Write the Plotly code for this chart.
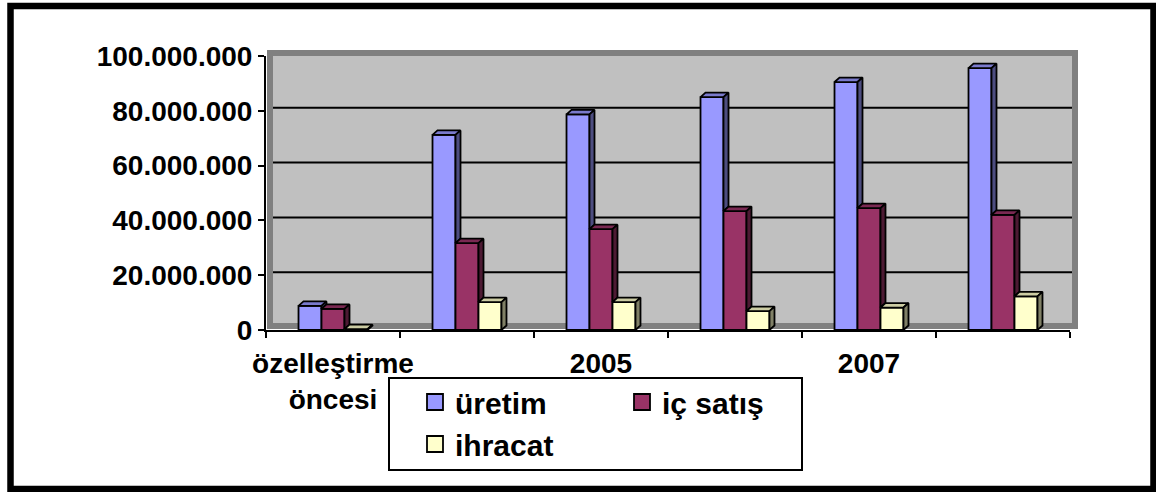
import plotly.graph_objects as go

# ---- data -------------------------------------------------------------
categories = ["özelleştirme<br>öncesi", "2004", "2005", "2006", "2007", "2008"]
label_categories = [0, 2, 4]          # categories whose names are printed
series_names = ["üretim", "iç satış", "ihracat"]
uretim = [8.8e6, 71.2e6, 78.7e6, 85.0e6, 90.5e6, 95.6e6]
ic_satis = [7.7e6, 31.7e6, 36.8e6, 43.4e6, 44.5e6, 42.0e6]
ihracat = [0.3e6, 10.2e6, 10.2e6, 6.9e6, 8.2e6, 12.3e6]
y_ticks = [0, 20e6, 40e6, 60e6, 80e6, 100e6]

# ---- style ------------------------------------------------------------
front_colors = ["#9999FF", "#993366", "#FFFFCC"]
top_colors = ["#7A7ACC", "#7A2952", "#CCCCA3"]
side_colors = ["#4D4D80", "#4D1A33", "#808066"]
FONT = "Liberation Sans, Arial, sans-serif"

W, H = 1156, 492
ML, MR, MT, MB = 266, 86, 56, 162
PW, PH = W - ML - MR, H - MT - MB
Y_MAX = 100e6

def px_x(p):
    return (p - ML) / PW

def px_y(p):
    return (MT + PH - p) / PH

bar_w = 0.1716                    # bar width in category units
depth_x = 5 / PW * len(categories)  # 3-D depth, horizontal part
depth_y = 4.5 / PH * Y_MAX          # 3-D depth, vertical part

values = [uretim, ic_satis, ihracat]
offsets = [-bar_w, 0.0, bar_w]
n = len(categories)

fig = go.Figure()

# front faces
for s, name in enumerate(series_names):
    fig.add_trace(go.Bar(
        x=[i + 0.5 + offsets[s] for i in range(n)],
        y=values[s], width=bar_w, name=name, showlegend=False,
        marker=dict(color=front_colors[s], line=dict(color="black", width=1.8)),
        hoverinfo="skip",
    ))

# top and side faces (side face hidden where the next bar stands in front)
for s in range(3):
    tx, ty, sx, sy = [], [], [], []
    for i in range(n):
        v = values[s][i]
        xc = i + 0.5 + offsets[s]
        xl, xr = xc - bar_w / 2, xc + bar_w / 2
        tx += [xl, xr, xr + depth_x, xl + depth_x, xl, None]
        ty += [v, v, v + depth_y, v + depth_y, v, None]
        lower = values[s + 1][i] if s < 2 else 0.0
        if lower < v:
            sx += [xr, xr, xr + depth_x, xr + depth_x, xr, None]
            sy += [lower, v, v + depth_y, lower + depth_y, lower, None]
    for xs, ys, col in ((tx, ty, top_colors[s]), (sx, sy, side_colors[s])):
        fig.add_trace(go.Scatter(
            x=xs, y=ys, mode="lines", fill="toself", fillcolor=col,
            line=dict(color="black", width=1.8), showlegend=False,
            hoverinfo="skip",
        ))

# legend entries
legend_of = ["legend", "legend2", "legend"]
for s, name in enumerate(series_names):
    fig.add_trace(go.Scatter(
        x=[None], y=[None], mode="markers", name=name, legend=legend_of[s],
        marker=dict(symbol="square", size=16, color=front_colors[s],
                    line=dict(color="black", width=1.8)),
    ))

# ---- walls, grid, frame ----------------------------------------------
shapes = [
    dict(type="rect", xref="paper", yref="paper", layer="below",
         x0=px_x(267), x1=px_x(1078), y0=px_y(329), y1=px_y(50),
         fillcolor="#808080", line=dict(width=0)),
    dict(type="rect", xref="paper", yref="paper", layer="below",
         x0=px_x(273), x1=px_x(1072), y0=px_y(323), y1=px_y(56),
         fillcolor="#C0C0C0", line=dict(width=0)),
]
grid_shift = 3 / PH * Y_MAX
for t in y_ticks[1:-1]:
    shapes.append(dict(type="line", xref="paper", yref="y", layer="below",
                       x0=px_x(273), x1=px_x(1072), y0=t + grid_shift, y1=t + grid_shift,
                       line=dict(color="black", width=2)))
shapes.append(dict(type="rect", xref="paper", yref="paper", layer="above",
                   x0=px_x(389), x1=px_x(802), y0=px_y(470), y1=px_y(378),
                   fillcolor="rgba(0,0,0,0)", line=dict(color="black", width=2)))
shapes.append(dict(type="rect", xref="paper", yref="paper", layer="above",
                   x0=px_x(10.5), x1=px_x(1153.5), y0=px_y(489), y1=px_y(6),
                   line=dict(color="black", width=6.5)))

tick_font = dict(family=FONT, size=28, color="black", weight="bold")
legend_font = dict(family=FONT, size=30, color="black", weight="bold")

fig.update_layout(
    width=W, height=H,
    margin=dict(l=ML, r=MR, t=MT, b=MB, pad=0),
    paper_bgcolor="white", plot_bgcolor="rgba(0,0,0,0)",
    barmode="overlay", separators=",.",
    shapes=shapes,
    xaxis=dict(
        range=[0, n], showgrid=False, zeroline=False,
        showline=True, linecolor="black", linewidth=2,
        tickmode="array",
        tickvals=[i + 0.5 for i in label_categories],
        ticktext=[categories[i] for i in label_categories],
        ticks="outside", ticklen=0, tickcolor="black",
        ticklabelstandoff=7, tickfont=tick_font,
        minor=dict(ticks="outside", tickmode="linear", tick0=0, dtick=1,
                   ticklen=6, tickwidth=2, tickcolor="black", showgrid=False),
    ),
    yaxis=dict(
        range=[0, Y_MAX], showgrid=False, zeroline=False,
        showline=True, linecolor="black", linewidth=2,
        tickmode="array", tickvals=y_ticks, tickformat=",d",
        ticks="outside", ticklen=6, tickwidth=2, tickcolor="black",
        ticklabelstandoff=0, tickfont=tick_font,
    ),
    legend=dict(x=px_x(415), y=px_y(376), xanchor="left", yanchor="top",
                orientation="v", bgcolor="rgba(0,0,0,0)", borderwidth=0,
                font=legend_font, itemsizing="trace"),
    legend2=dict(x=px_x(622), y=px_y(376), xanchor="left", yanchor="top",
                 orientation="v", bgcolor="rgba(0,0,0,0)", borderwidth=0,
                 font=legend_font, itemsizing="trace"),
)

fig.write_html("out.html")
